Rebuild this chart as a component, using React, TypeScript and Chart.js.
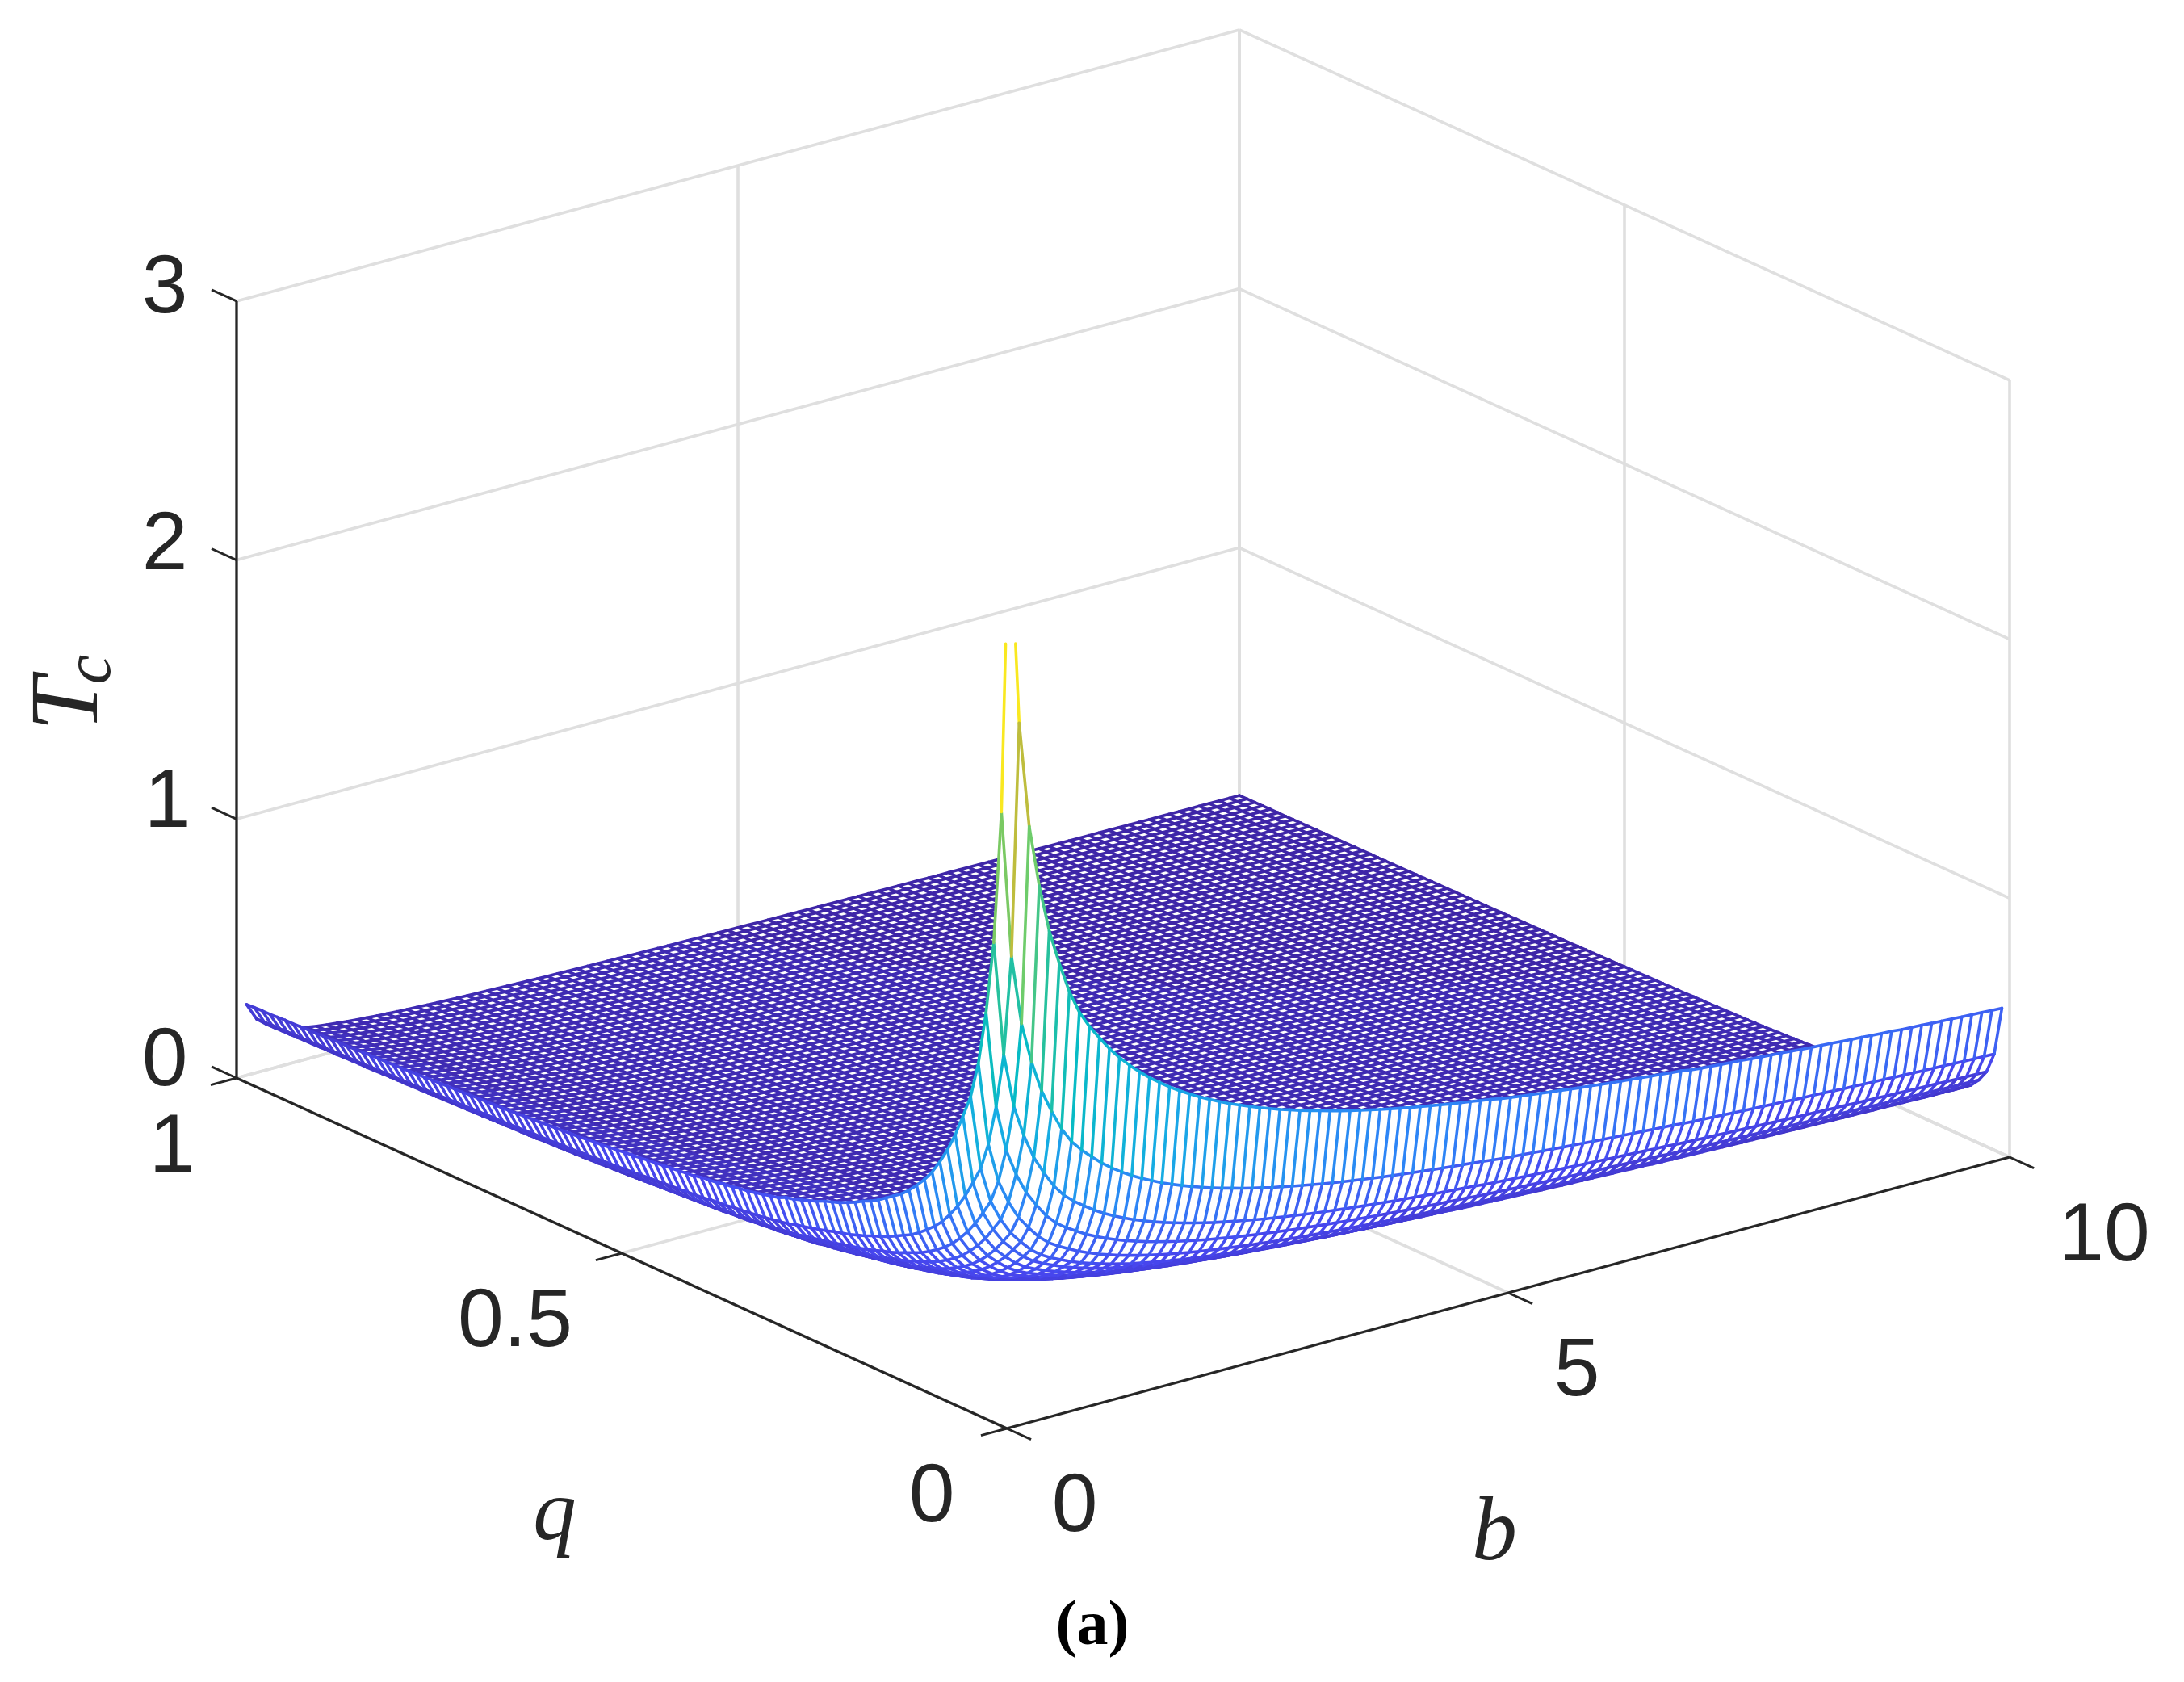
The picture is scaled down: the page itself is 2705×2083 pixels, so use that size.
import React, { useEffect, useRef } from "react";
import { Chart, registerables } from "chart.js";

Chart.register(...registerables);

// Mesh grid of the surface.
const bGrid = [0.1,0.2,0.3,0.4,0.5,0.6,0.7,0.8,0.9,1,1.1,1.2,1.3,1.4,1.5,1.6,1.7,1.8,1.9,2,2.1,2.2,2.3,2.4,2.5,2.6,2.7,2.8,2.9,3,3.1,3.2,3.3,3.4,3.5,3.6,3.7,3.8,3.9,4,4.1,4.2,4.3,4.4,4.5,4.6,4.7,4.8,4.9,5,5.1,5.2,5.3,5.4,5.5,5.6,5.7,5.8,5.9,6,6.1,6.2,6.3,6.4,6.5,6.6,6.7,6.8,6.9,7,7.1,7.2,7.3,7.4,7.5,7.6,7.7,7.8,7.9,8,8.1,8.2,8.3,8.4,8.5,8.6,8.7,8.8,8.9,9,9.1,9.2,9.3,9.4,9.5,9.6,9.7,9.8,9.9,10];
const qGrid = [0.01,0.02,0.03,0.04,0.05,0.06,0.07,0.08,0.09,0.1,0.11,0.12,0.13,0.14,0.15,0.16,0.17,0.18,0.19,0.2,0.21,0.22,0.23,0.24,0.25,0.26,0.27,0.28,0.29,0.3,0.31,0.32,0.33,0.34,0.35,0.36,0.37,0.38,0.39,0.4,0.41,0.42,0.43,0.44,0.45,0.46,0.47,0.48,0.49,0.5,0.51,0.52,0.53,0.54,0.55,0.56,0.57,0.58,0.59,0.6,0.61,0.62,0.63,0.64,0.65,0.66,0.67,0.68,0.69,0.7,0.71,0.72,0.73,0.74,0.75,0.76,0.77,0.78,0.79,0.8,0.81,0.82,0.83,0.84,0.85,0.86,0.87,0.88,0.89,0.9,0.91,0.92,0.93,0.94,0.95,0.96,0.97,0.98,0.99,1];

// Tc along b on the front row (q = 0.01).
const tcAlongB = [3.55,2.69,2.28,2.04,1.855,1.72,1.6,1.51,1.445,1.39,1.338,1.293,1.253,1.217,1.184,1.155,1.127,1.102,1.079,1.057,1.037,1.018,1,0.984,0.968,0.953,0.939,0.925,0.913,0.9,0.889,0.878,0.867,0.857,0.847,0.838,0.829,0.82,0.812,0.804,0.796,0.789,0.782,0.775,0.768,0.762,0.756,0.75,0.744,0.736,0.73,0.725,0.72,0.715,0.71,0.705,0.7,0.695,0.691,0.686,0.682,0.678,0.674,0.67,0.666,0.662,0.658,0.655,0.648,0.644,0.641,0.638,0.635,0.632,0.628,0.625,0.622,0.619,0.616,0.612,0.609,0.607,0.604,0.601,0.598,0.596,0.593,0.59,0.588,0.584,0.582,0.58,0.577,0.575,0.573,0.57,0.568,0.566,0.564,0.562];

// Relative falloff of Tc along q.
const falloffAlongQ = [1,0.66,0.514,0.434,0.375,0.335,0.31,0.286,0.266,0.249,0.234,0.222,0.212,0.203,0.195,0.189,0.183,0.177,0.172,0.168,0.163,0.159,0.155,0.152,0.149,0.145,0.142,0.139,0.136,0.134,0.13,0.128,0.126,0.124,0.122,0.121,0.119,0.118,0.116,0.115,0.114,0.112,0.111,0.11,0.109,0.108,0.107,0.106,0.105,0.104,0.103,0.102,0.101,0.1,0.0995,0.0985,0.0975,0.097,0.096,0.0955,0.095,0.094,0.0935,0.093,0.092,0.0915,0.091,0.0905,0.09,0.0895,0.089,0.0885,0.088,0.0875,0.087,0.0865,0.086,0.0855,0.085,0.0845,0.084,0.0835,0.0835,0.083,0.0825,0.082,0.0815,0.0815,0.081,0.0805,0.08,0.08,0.0795,0.079,0.079,0.0785,0.078,0.078,0.0775,0.077];

// Approximation: the surface table is the product of the two read-off profiles
// above, because the full 100 x 100 mesh was not tabulated cell by cell.
const tcTable = falloffAlongQ.map((f) => tcAlongB.map((t) => t * f));

const zTicks = [0, 1, 2, 3];
const bTicks = [0, 5, 10];
const qTicks = [0, 0.5, 1];
const zTickLabels = ["0", "1", "2", "3"];
const bTickLabels = ["0", "5", "10"];
const qTickLabels = ["0", "0.5", "1"];
const bLimit = 10;
const qLimit = 1;
const zLimit = 3;
const colorTop = 3.7;

// Style and layout, separate from the data.
const WIDTH = 2705;
const HEIGHT = 2083;
const origin = { x: 1247, y: 1769 };
const bVec = { x: 124.2, y: -33.6 };
const qVec = { x: -954, y: -434 };
const zVec = { x: 0, y: -320.7 };
const AXIS = "#262626";
const GRID = "#dfdfdf";
const MESH_WIDTH = 3.6;
const GRID_WIDTH = 3.6;
const AXIS_WIDTH = 3.2;
const TICK_WIDTH = 3;
const COLOR_LEVELS = 64;
const parula = [
  [62, 38, 168], [71, 72, 240], [47, 130, 247], [22, 172, 228], [7, 187, 196],
  [41, 194, 154], [108, 204, 108], [182, 190, 62], [236, 185, 56], [249, 211, 44], [249, 251, 21],
];
const tickFont = '102px "Liberation Sans"';
const zLabelSpots = [[204, 1344], [207, 1024], [204, 705], [204, 387]];
const bLabelSpots = [[1331, 1896], [1953, 1728], [2606, 1561]];
const qLabelSpots = [[1154, 1884], [638, 1667], [213, 1451]];

type P3 = { b: number; q: number; z: number };

const project = (p: P3) => ({
  x: origin.x + bVec.x * p.b + qVec.x * p.q + zVec.x * p.z,
  y: origin.y + bVec.y * p.b + qVec.y * p.q + zVec.y * p.z,
});

// The colormap is stepped, like the 64 level map of the original plot.
const colorOf = (z: number) => {
  const level = Math.floor(Math.min(1, Math.max(0, z / colorTop)) * (COLOR_LEVELS - 1)) / (COLOR_LEVELS - 1);
  const t = level * (parula.length - 1);
  const k = Math.min(parula.length - 2, Math.floor(t));
  const f = t - k;
  const c = parula[k].map((v, n) => Math.round(v + (parula[k + 1][n] - v) * f));
  return `rgb(${c[0]},${c[1]},${c[2]})`;
};

const node = (i: number, j: number): P3 => ({ b: bGrid[j], q: qGrid[i], z: tcTable[i][j] });

// The z axis limit cuts any edge that leaves the box, as the original plot does.
const clipTo = (a: P3, n: P3): P3 => {
  if (a.z <= zLimit) return a;
  const t = (zLimit - n.z) / (a.z - n.z);
  return { b: n.b + (a.b - n.b) * t, q: n.q + (a.q - n.q) * t, z: zLimit };
};

const base = { showLine: true, pointRadius: 0, pointHoverRadius: 0, fill: false, tension: 0, parsing: { xAxisKey: "x", yAxisKey: "y" } };

const plain = (a: P3, b: P3, color: string, width: number) => ({
  ...base,
  data: [project(a), project(b)],
  borderColor: color,
  borderWidth: width,
});

const coloured = (points: { x: number; y: number }[], colors: string[]) => ({
  ...base,
  data: points,
  borderColor: colors[0],
  borderWidth: MESH_WIDTH,
  borderCapStyle: "round",
  borderJoinStyle: "round",
  segment: { borderColor: (c: any) => colors[c.p0DataIndex] },
});

const rowNodes = (i: number) => bGrid.map((_, j) => {
  const n = node(i, j);
  const other = node(i, j + 1 < bGrid.length ? j + 1 : j - 1);
  return clipTo(n, other);
});

const rowLine = (i: number) => coloured(
  rowNodes(i).map(project),
  bGrid.map((_, j) => colorOf(tcTable[i][j])),
);

const crossLines = (s: number) => {
  const pts: { x: number; y: number }[] = [];
  const cols: string[] = [];
  bGrid.forEach((_, j) => {
    const a = node(s, j);
    const b = node(s + 1, j);
    const c = colorOf(a.z);
    pts.push(project(clipTo(a, b)), project(clipTo(b, a)), { x: NaN, y: NaN });
    cols.push(c, c, c);
  });
  return coloured(pts, cols);
};

const stripFill = (s: number) => ({
  ...base,
  data: [...rowNodes(s), ...rowNodes(s + 1).reverse()].map(project),
  borderColor: "rgba(0,0,0,0)",
  borderWidth: 0,
  backgroundColor: "#ffffff",
  fill: "shape",
});

const buildDatasets = () => {
  // The first dataset is painted last, so the list runs from front to back.
  const axes: any[] = [];
  axes.push(plain({ b: 0, q: qLimit, z: 0 }, { b: 0, q: qLimit, z: zLimit }, AXIS, AXIS_WIDTH));
  axes.push(plain({ b: 0, q: 0, z: 0 }, { b: 0, q: qLimit, z: 0 }, AXIS, AXIS_WIDTH));
  axes.push(plain({ b: 0, q: 0, z: 0 }, { b: bLimit, q: 0, z: 0 }, AXIS, AXIS_WIDTH));
  zTicks.forEach((z) => axes.push(plain({ b: 0, q: qLimit, z }, { b: 0, q: qLimit + 0.0325, z }, AXIS, TICK_WIDTH)));
  qTicks.forEach((q) => axes.push(plain({ b: 0, q, z: 0 }, { b: -0.258, q, z: 0 }, AXIS, TICK_WIDTH)));
  bTicks.forEach((b) => axes.push(plain({ b, q: 0, z: 0 }, { b, q: -0.0315, z: 0 }, AXIS, TICK_WIDTH)));

  const mesh: any[] = [rowLine(0)];
  for (let s = 0; s < qGrid.length - 1; s++) {
    mesh.push(crossLines(s), rowLine(s + 1), stripFill(s));
  }

  const grid: any[] = [];
  zTicks.forEach((z) => {
    grid.push(plain({ b: 0, q: qLimit, z }, { b: bLimit, q: qLimit, z }, GRID, GRID_WIDTH));
    grid.push(plain({ b: bLimit, q: 0, z }, { b: bLimit, q: qLimit, z }, GRID, GRID_WIDTH));
  });
  bTicks.forEach((b) => {
    grid.push(plain({ b, q: qLimit, z: 0 }, { b, q: qLimit, z: zLimit }, GRID, GRID_WIDTH));
    grid.push(plain({ b, q: 0, z: 0 }, { b, q: qLimit, z: 0 }, GRID, GRID_WIDTH));
  });
  qTicks.forEach((q) => {
    grid.push(plain({ b: bLimit, q, z: 0 }, { b: bLimit, q, z: zLimit }, GRID, GRID_WIDTH));
    grid.push(plain({ b: 0, q, z: 0 }, { b: bLimit, q, z: 0 }, GRID, GRID_WIDTH));
  });
  return [...axes, ...mesh, ...grid];
};

const textPlugin = {
  id: "axisText",
  afterDraw(chart: any) {
    const { ctx, scales } = chart;
    const X = (v: number) => scales.x.getPixelForValue(v);
    const Y = (v: number) => scales.y.getPixelForValue(v);
    const put = (text: string, x: number, y: number, font: string, color = AXIS) => {
      ctx.font = font;
      ctx.fillStyle = color;
      ctx.textAlign = "center";
      ctx.textBaseline = "alphabetic";
      ctx.fillText(text, X(x), Y(y));
    };
    ctx.save();
    zTickLabels.forEach((t, i) => put(t, zLabelSpots[i][0], zLabelSpots[i][1], tickFont));
    bTickLabels.forEach((t, i) => put(t, bLabelSpots[i][0], bLabelSpots[i][1], tickFont));
    qTickLabels.forEach((t, i) => put(t, qLabelSpots[i][0], qLabelSpots[i][1], tickFont));
    put("q", 687, 1906, 'italic 107px "Liberation Serif"');
    put("b", 1851, 1931, 'italic 112px "Liberation Serif"');
    put("(a)", 1353, 2036, 'bold 78px "Liberation Serif"', "#000000");
    const rotated = (text: string, x: number, y: number, font: string) => {
      ctx.save();
      ctx.translate(X(x), Y(y));
      ctx.rotate(-Math.PI / 2);
      ctx.font = font;
      ctx.fillStyle = AXIS;
      ctx.textAlign = "center";
      ctx.textBaseline = "alphabetic";
      ctx.fillText(text, 0, 0);
      ctx.restore();
    };
    rotated("T", 120, 872, 'italic 120px "Liberation Serif"');
    rotated("c", 136, 829, 'italic 82px "Liberation Serif"');
    ctx.restore();
  },
};

export default function App() {
  const ref = useRef<HTMLCanvasElement>(null);
  useEffect(() => {
    document.body.style.margin = "0";
    document.body.style.background = "#ffffff";
    const chart = new Chart(ref.current as HTMLCanvasElement, {
      type: "scatter",
      data: { datasets: buildDatasets() },
      options: {
        responsive: false,
        animation: false,
        devicePixelRatio: 1,
        events: [],
        layout: { padding: 0 },
        plugins: { legend: { display: false }, tooltip: { enabled: false } },
        scales: {
          x: { type: "linear", min: 0, max: WIDTH, display: false },
          y: { type: "linear", min: 0, max: HEIGHT, reverse: true, display: false },
        },
      },
      plugins: [textPlugin],
    } as any);
    return () => chart.destroy();
  }, []);
  return <canvas ref={ref} width={WIDTH} height={HEIGHT} style={{ display: "block" }} />;
}
